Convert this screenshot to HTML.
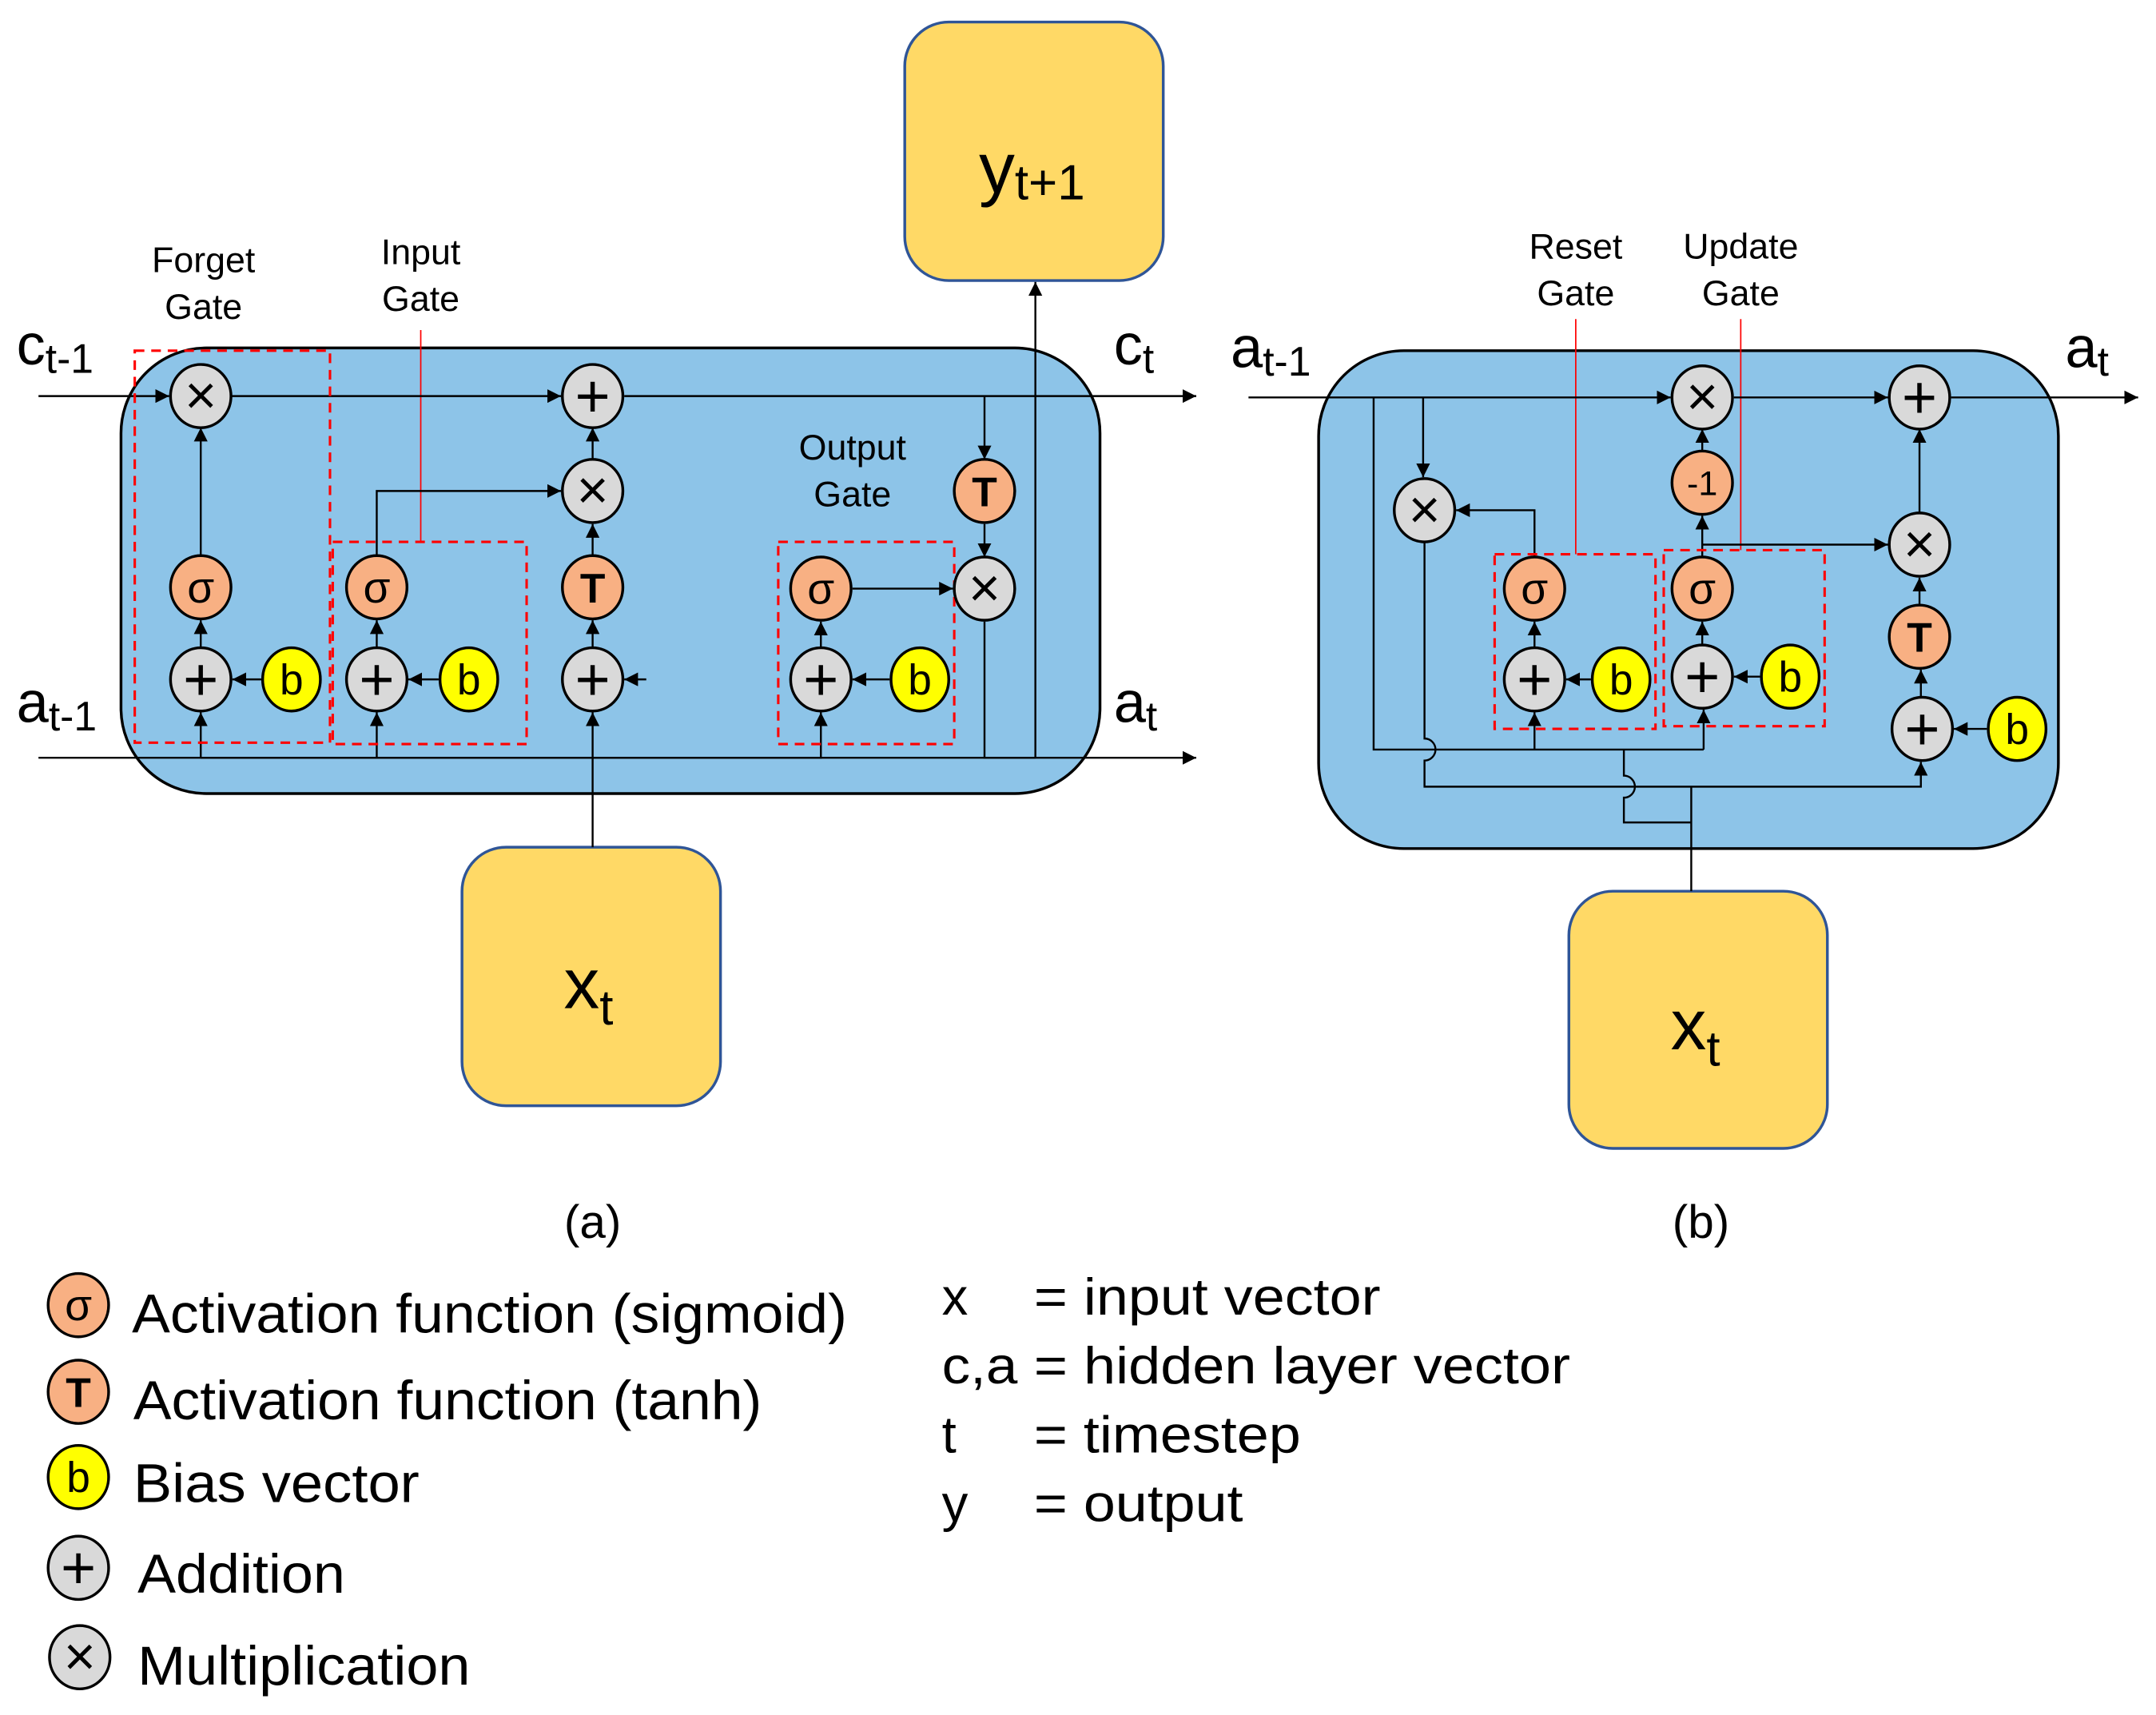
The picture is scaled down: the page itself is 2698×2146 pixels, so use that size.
<!DOCTYPE html>
<html><head><meta charset="utf-8"><style>
html,body{margin:0;padding:0;background:#fff;}
svg{display:block;}
text{font-family:"Liberation Sans",sans-serif;fill:#000;}
</style></head><body>
<svg width="2698" height="2146" viewBox="0 0 1568 1247" preserveAspectRatio="none" xmlns="http://www.w3.org/2000/svg">
<defs>
<marker id="ar" viewBox="0 0 10 10" refX="10" refY="5" markerWidth="10" markerHeight="10" markerUnits="userSpaceOnUse" orient="auto">
<path d="M0,0 L10,5 L0,10 z" fill="#000"/></marker>
</defs>
<style>
.l{stroke:#000;stroke-width:1.4;fill:none;}
.r{stroke:#ff0000;stroke-width:1;fill:none;}
.d{stroke:#ff0000;stroke-width:1.8;fill:none;stroke-dasharray:7,5;}
.g{fill:#D9D9D9;stroke:#000;stroke-width:2;}
.o{fill:#F8B083;stroke:#000;stroke-width:2;}
.y{fill:#FFFF00;stroke:#000;stroke-width:2;}
.nt{text-anchor:middle;}
.x{font-size:40px;}
.p{font-size:44px;}
.s{font-size:32px;}
.b{font-size:31px;}
.t{font-size:30px;font-weight:bold;}
.m{font-size:25px;}
.lb{font-size:26px;text-anchor:middle;}
</style>

<!-- (a) -->
<rect x="88" y="253" width="712" height="324" rx="62" fill="#8DC4E8" stroke="#000" stroke-width="2"/>
<rect x="658" y="16" width="188" height="188" rx="32" fill="#FFD966" stroke="#2F5597" stroke-width="2"/>
<text x="712" y="140" style="font-size:52px">y<tspan style="font-size:36px" dy="5">t+1</tspan></text>
<rect x="336" y="616" width="188" height="188" rx="32" fill="#FFD966" stroke="#2F5597" stroke-width="2"/>
<text x="410" y="733" style="font-size:52px">x<tspan style="font-size:36px" dy="12">t</tspan></text>

<text x="12" y="265" style="font-size:42px">c<tspan style="font-size:30px" dy="6">t-1</tspan></text>
<text x="810" y="265" style="font-size:42px">c<tspan style="font-size:30px" dy="6">t</tspan></text>
<text x="12" y="525" style="font-size:42px">a<tspan style="font-size:30px" dy="6">t-1</tspan></text>
<text x="810" y="525" style="font-size:42px">a<tspan style="font-size:30px" dy="6">t</tspan></text>

<text class="lb" x="148" y="198">Forget</text><text class="lb" x="148" y="232">Gate</text>
<text class="lb" x="306" y="192">Input</text><text class="lb" x="306" y="226">Gate</text>
<text class="lb" x="620" y="334">Output</text><text class="lb" x="620" y="368">Gate</text>

<line class="r" x1="306" y1="240" x2="306" y2="394"/>

<line class="l" x1="28" y1="288" x2="123" y2="288" marker-end="url(#ar)"/>
<line class="l" x1="168" y1="288" x2="408" y2="288" marker-end="url(#ar)"/>
<line class="l" x1="454" y1="288" x2="870" y2="288" marker-end="url(#ar)"/>
<line class="l" x1="28" y1="551" x2="870" y2="551" marker-end="url(#ar)"/>
<line class="l" x1="146" y1="404" x2="146" y2="311" marker-end="url(#ar)"/>
<line class="l" x1="146" y1="471" x2="146" y2="451" marker-end="url(#ar)"/>
<line class="l" x1="146" y1="551" x2="146" y2="518" marker-end="url(#ar)"/>
<line class="l" x1="190" y1="494" x2="169" y2="494" marker-end="url(#ar)"/>
<polyline class="l" points="274,404 274,357 408,357" marker-end="url(#ar)"/>
<line class="l" x1="274" y1="471" x2="274" y2="451" marker-end="url(#ar)"/>
<line class="l" x1="274" y1="551" x2="274" y2="518" marker-end="url(#ar)"/>
<line class="l" x1="319" y1="494" x2="297" y2="494" marker-end="url(#ar)"/>
<line class="l" x1="431" y1="334" x2="431" y2="311" marker-end="url(#ar)"/>
<line class="l" x1="431" y1="404" x2="431" y2="381" marker-end="url(#ar)"/>
<line class="l" x1="431" y1="471" x2="431" y2="451" marker-end="url(#ar)"/>
<line class="l" x1="431" y1="616" x2="431" y2="518" marker-end="url(#ar)"/>
<line class="l" x1="470" y1="494" x2="454" y2="494" marker-end="url(#ar)"/>
<line class="l" x1="597" y1="471" x2="597" y2="452" marker-end="url(#ar)"/>
<polyline class="l" points="146,551 597,551 597,518" marker-end="url(#ar)"/>
<line class="l" x1="647" y1="494" x2="620" y2="494" marker-end="url(#ar)"/>
<line class="l" x1="620" y1="428" x2="693" y2="428" marker-end="url(#ar)"/>
<line class="l" x1="716" y1="288" x2="716" y2="334" marker-end="url(#ar)"/>
<line class="l" x1="716" y1="381" x2="716" y2="405" marker-end="url(#ar)"/>
<polyline class="l" points="716,452 716,551 753,551"/>
<line class="l" x1="753" y1="551" x2="753" y2="205" marker-end="url(#ar)"/>

<rect class="d" x="98" y="255" width="142" height="285"/>
<rect class="d" x="242" y="394" width="141" height="147"/>
<rect class="d" x="566" y="394" width="128" height="147"/>

<g>
<ellipse class="g" cx="146" cy="288" rx="22" ry="23"/><text class="nt x" x="146" y="301">×</text>
<ellipse class="o" cx="146" cy="427" rx="22" ry="23"/><text class="nt s" x="146" y="438">σ</text>
<ellipse class="g" cx="146" cy="494" rx="22" ry="23"/><text class="nt p" x="146" y="509">+</text>
<ellipse class="y" cx="212" cy="494" rx="21" ry="23"/><text class="nt b" x="212" y="505">b</text>
<ellipse class="o" cx="274" cy="427" rx="22" ry="23"/><text class="nt s" x="274" y="438">σ</text>
<ellipse class="g" cx="274" cy="494" rx="22" ry="23"/><text class="nt p" x="274" y="509">+</text>
<ellipse class="y" cx="341" cy="494" rx="21" ry="23"/><text class="nt b" x="341" y="505">b</text>
<ellipse class="g" cx="431" cy="288" rx="22" ry="23"/><text class="nt p" x="431" y="303">+</text>
<ellipse class="g" cx="431" cy="357" rx="22" ry="23"/><text class="nt x" x="431" y="370">×</text>
<ellipse class="o" cx="431" cy="427" rx="22" ry="23"/><text class="nt t" x="431" y="438">T</text>
<ellipse class="g" cx="431" cy="494" rx="22" ry="23"/><text class="nt p" x="431" y="509">+</text>
<ellipse class="o" cx="597" cy="428" rx="22" ry="23"/><text class="nt s" x="597" y="439">σ</text>
<ellipse class="g" cx="597" cy="494" rx="22" ry="23"/><text class="nt p" x="597" y="509">+</text>
<ellipse class="y" cx="669" cy="494" rx="21" ry="23"/><text class="nt b" x="669" y="505">b</text>
<ellipse class="o" cx="716" cy="357" rx="22" ry="23"/><text class="nt t" x="716" y="368">T</text>
<ellipse class="g" cx="716" cy="428" rx="22" ry="23"/><text class="nt x" x="716" y="441">×</text>
</g>

<!-- (b) -->
<rect x="959" y="255" width="538" height="362" rx="62" fill="#8DC4E8" stroke="#000" stroke-width="2"/>
<rect x="1141" y="648" width="188" height="187" rx="32" fill="#FFD966" stroke="#2F5597" stroke-width="2"/>
<text x="1215" y="763" style="font-size:52px">x<tspan style="font-size:36px" dy="12">t</tspan></text>

<text x="895" y="267" style="font-size:42px">a<tspan style="font-size:30px" dy="6">t-1</tspan></text>
<text x="1502" y="267" style="font-size:42px">a<tspan style="font-size:30px" dy="6">t</tspan></text>
<text class="lb" x="1146" y="188">Reset</text><text class="lb" x="1146" y="222">Gate</text>
<text class="lb" x="1266" y="188">Update</text><text class="lb" x="1266" y="222">Gate</text>

<line class="r" x1="1146" y1="232" x2="1146" y2="403"/>
<line class="r" x1="1266" y1="232" x2="1266" y2="400"/>

<line class="l" x1="908" y1="289" x2="1215" y2="289" marker-end="url(#ar)"/>
<line class="l" x1="1261" y1="289" x2="1373" y2="289" marker-end="url(#ar)"/>
<line class="l" x1="1419" y1="289" x2="1555" y2="289" marker-end="url(#ar)"/>
<line class="l" x1="1035" y1="289" x2="1035" y2="347" marker-end="url(#ar)"/>
<polyline class="l" points="999,289 999,545 1239,545"/>
<polyline class="l" points="1116,405 1116,371 1059,371" marker-end="url(#ar)"/>
<line class="l" x1="1116" y1="471" x2="1116" y2="452" marker-end="url(#ar)"/>
<line class="l" x1="1116" y1="545" x2="1116" y2="518" marker-end="url(#ar)"/>
<line class="l" x1="1157" y1="494" x2="1139" y2="494" marker-end="url(#ar)"/>
<line class="l" x1="1239" y1="545" x2="1239" y2="516" marker-end="url(#ar)"/>
<line class="l" x1="1238" y1="469" x2="1238" y2="452" marker-end="url(#ar)"/>
<line class="l" x1="1280" y1="492" x2="1261" y2="492" marker-end="url(#ar)"/>
<line class="l" x1="1238" y1="405" x2="1238" y2="375" marker-end="url(#ar)"/>
<line class="l" x1="1238" y1="328" x2="1238" y2="312" marker-end="url(#ar)"/>
<line class="l" x1="1238" y1="396" x2="1373" y2="396" marker-end="url(#ar)"/>
<line class="l" x1="1396" y1="373" x2="1396" y2="312" marker-end="url(#ar)"/>
<line class="l" x1="1396" y1="440" x2="1396" y2="420" marker-end="url(#ar)"/>
<line class="l" x1="1397" y1="507" x2="1397" y2="487" marker-end="url(#ar)"/>
<line class="l" x1="1445" y1="530" x2="1421" y2="530" marker-end="url(#ar)"/>
<path class="l" d="M1036,394 V537 A8,8 0 0 1 1036,553 V572 H1397 V554" marker-end="url(#ar)"/>
<path class="l" d="M1181,545 V564 A8,8 0 0 1 1181,580 V598 H1230 V572 M1230,598 V648"/>

<rect class="d" x="1087" y="403" width="117" height="127"/>
<rect class="d" x="1210" y="400" width="117" height="128"/>

<g>
<ellipse class="g" cx="1238" cy="289" rx="22" ry="23"/><text class="nt x" x="1238" y="302">×</text>
<ellipse class="g" cx="1396" cy="289" rx="22" ry="23"/><text class="nt p" x="1396" y="304">+</text>
<ellipse class="g" cx="1036" cy="371" rx="22" ry="23"/><text class="nt x" x="1036" y="384">×</text>
<ellipse class="o" cx="1238" cy="351" rx="22" ry="23"/><text class="nt m" x="1238" y="360">-1</text>
<ellipse class="o" cx="1116" cy="428" rx="22" ry="23"/><text class="nt s" x="1116" y="439">σ</text>
<ellipse class="g" cx="1116" cy="494" rx="22" ry="23"/><text class="nt p" x="1116" y="509">+</text>
<ellipse class="y" cx="1179" cy="494" rx="21" ry="23"/><text class="nt b" x="1179" y="505">b</text>
<ellipse class="o" cx="1238" cy="428" rx="22" ry="23"/><text class="nt s" x="1238" y="439">σ</text>
<ellipse class="g" cx="1238" cy="492" rx="22" ry="23"/><text class="nt p" x="1238" y="507">+</text>
<ellipse class="y" cx="1302" cy="492" rx="21" ry="23"/><text class="nt b" x="1302" y="503">b</text>
<ellipse class="g" cx="1396" cy="396" rx="22" ry="23"/><text class="nt x" x="1396" y="409">×</text>
<ellipse class="o" cx="1396" cy="463" rx="22" ry="23"/><text class="nt t" x="1396" y="474">T</text>
<ellipse class="g" cx="1398" cy="530" rx="22" ry="23"/><text class="nt p" x="1398" y="545">+</text>
<ellipse class="y" cx="1467" cy="530" rx="21" ry="23"/><text class="nt b" x="1467" y="541">b</text>
</g>

<text x="431" y="900" style="font-size:34px" text-anchor="middle">(a)</text>
<text x="1237" y="900" style="font-size:34px" text-anchor="middle">(b)</text>

<!-- legend -->
<ellipse class="o" cx="57" cy="949" rx="22" ry="23"/><text class="nt s" x="57" y="960">σ</text>
<ellipse class="o" cx="57" cy="1012" rx="22" ry="23"/><text class="nt t" x="57" y="1023">T</text>
<ellipse class="y" cx="57" cy="1074" rx="22" ry="23"/><text class="nt b" x="57" y="1085">b</text>
<ellipse class="g" cx="57" cy="1140" rx="22" ry="23"/><text class="nt p" x="57" y="1155">+</text>
<ellipse class="g" cx="58" cy="1205" rx="22" ry="23"/><text class="nt x" x="58" y="1218">×</text>
<text x="96" y="969" style="font-size:40px" textLength="520" lengthAdjust="spacingAndGlyphs">Activation function (sigmoid)</text>
<text x="97" y="1032" style="font-size:40px" textLength="457" lengthAdjust="spacingAndGlyphs">Activation function (tanh)</text>
<text x="97" y="1092" style="font-size:40px" textLength="208" lengthAdjust="spacingAndGlyphs">Bias vector</text>
<text x="100" y="1158" style="font-size:40px" textLength="151" lengthAdjust="spacingAndGlyphs">Addition</text>
<text x="100" y="1225" style="font-size:40px" textLength="242" lengthAdjust="spacingAndGlyphs">Multiplication</text>

<g style="font-size:38px">
<text x="685" y="956">x</text><text x="752" y="956" textLength="252" lengthAdjust="spacingAndGlyphs">= input vector</text>
<text x="685" y="1006" textLength="55" lengthAdjust="spacingAndGlyphs">c,a</text><text x="752" y="1006" textLength="390" lengthAdjust="spacingAndGlyphs">= hidden layer vector</text>
<text x="685" y="1056">t</text><text x="752" y="1056" textLength="194" lengthAdjust="spacingAndGlyphs">= timestep</text>
<text x="685" y="1106">y</text><text x="752" y="1106" textLength="152" lengthAdjust="spacingAndGlyphs">= output</text>
</g>
</svg>
</body></html>
